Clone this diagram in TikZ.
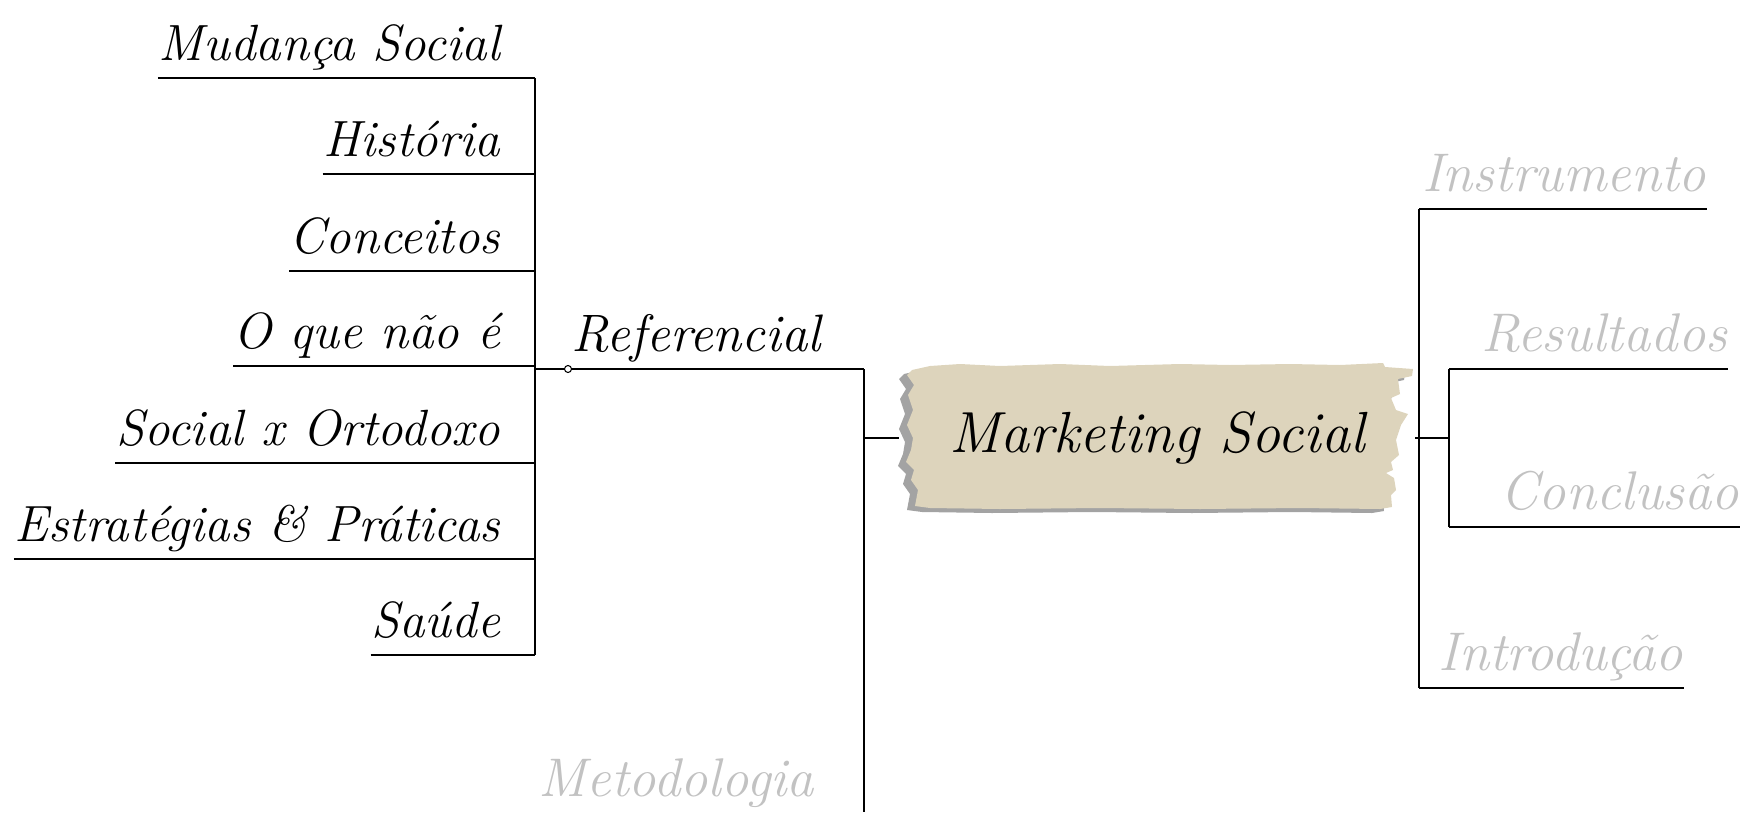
\documentclass[tikz,border=0pt]{standalone}
\usepackage{fontspec}
\usepackage{tikz}
\usetikzlibrary{calc}

\definecolor{paper}{HTML}{DDD4BC}
\definecolor{tear}{HTML}{A3A3A3}
\definecolor{faded}{HTML}{C2C2C2}

\newcommand{\paperedge}{(912,370) -- (930,366) -- (960,364) -- (1000,366) -- (1060,364) -- (1110,366)
  -- (1180,364) -- (1230,365) -- (1290,364) -- (1340,365) -- (1383,363) -- (1385,367) -- (1413,369)
  -- (1412,376) -- (1398,379) -- (1400,394) -- (1391,398) -- (1396,410) -- (1408,414) -- (1401,425)
  -- (1396,440) -- (1399,455) -- (1391,462) -- (1393,470) -- (1386,473) -- (1394,478) -- (1396,490)
  -- (1391,495) -- (1392,507) -- (1380,509) -- (1300,508) -- (1200,509) -- (1100,508) -- (1000,509)
  -- (930,508) -- (915,506) -- (918,490) -- (911,480) -- (914,470) -- (906,462) -- (911,450)
  -- (913,438) -- (907,425) -- (913,410) -- (908,395) -- (914,385) -- (907,375) -- cycle}

\begin{document}
\begin{tikzpicture}[x=0.02cm,y=-0.02cm,line width=1pt]
  \tikzset{leaf/.style = {anchor=south east,inner sep=0pt,text depth=0.34cm,font=\fontsize{29}{33}\selectfont\itshape}}
  \tikzset{faded leaf/.style = {leaf,text=faded,font=\fontsize{31}{35}\selectfont\itshape}}

  \useasboundingbox (0,0) rectangle (1749,812);

  % left side
  \foreach \n/\y/\t in {ms/78/Mudança Social, hi/174/História, ce/271/Conceitos, qn/366/O que não é,
    so/463/Social x Ortodoxo, ep/559/Estratégias \& Práticas, sa/655/Saúde}
    \node[leaf] (\n) at (501,\y) {\t};

  \coordinate (ref) at (535,369);
  \foreach \n in {ms,hi,ce,qn,so,ep,sa}
    \draw (\n.south west) -- (\n.south -| ref);
  \draw (ms.south -| ref) -- (sa.south -| ref);

  \node[leaf,anchor=south west,font=\fontsize{30}{34}\selectfont\itshape] (rf) at (571,369) {Referencial};
  \node[circle,draw,fill=white,inner sep=0pt,minimum size=0.14cm,line width=0.6pt] (knot) at (568,369) {};
  \coordinate (mid) at (864,369);
  \draw (ref) -- (knot) -- (mid);

  \node[faded leaf,anchor=base west] (met) at (538,796) {Metodologia};
  \coordinate (mend) at (864,812);
  \draw (mid) -- (mend);

  % centre
  \fill[tear,shift={(-8,4)}] \paperedge;
  \fill[paper] \paperedge;
  \node[minimum width=10.3cm,minimum height=2.9cm,inner sep=0pt,font=\fontsize{33}{37}\selectfont\itshape] (core) at (1157,438) {Marketing Social};
  \coordinate (hubL) at (864,438);
  \draw (hubL) -- (core.west);

  % right side
  \coordinate (hubR) at (1419,438);
  \coordinate (hubS) at (1449,438);
  \foreach \n/\x/\y/\t in {ins/1707/209/Instrumento, res/1728/369/Resultados, con/1740/527/Conclusão, intro/1684/688/Introdução}
    \node[faded leaf] (\n) at (\x,\y) {\t};
  \draw (core.east) -- (hubR) -- (hubS);
  \draw (ins.south -| hubR) -- (intro.south -| hubR);
  \draw (res.south -| hubS) -- (con.south -| hubS);
  \foreach \n/\h in {ins/hubR, intro/hubR, res/hubS, con/hubS}
    \draw (\n.south -| \h) -- (\n.south east);
\end{tikzpicture}
\end{document}
